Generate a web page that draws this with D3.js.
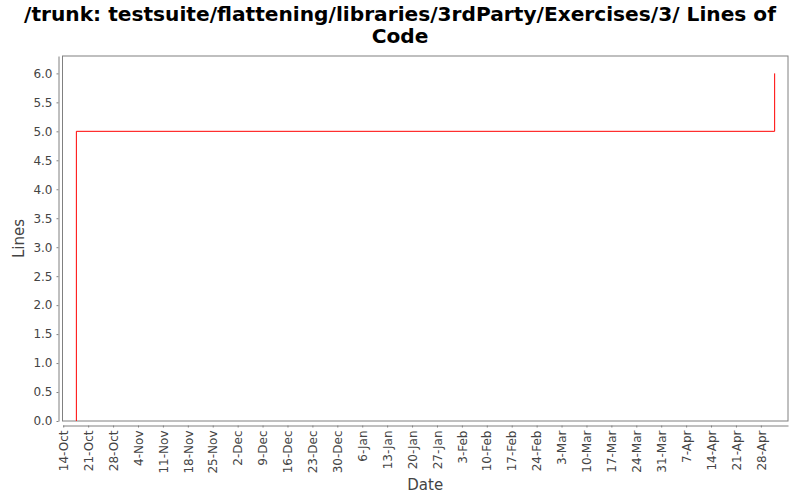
<!DOCTYPE html>
<html><head><meta charset="utf-8">
<script src="https://cdn.jsdelivr.net/npm/d3@7"></script>
<style>body{margin:0;background:#fff;} svg{display:block;}</style>
</head><body>
<svg id="c" width="800" height="500"></svg>
<script>
const titleLines = ["/trunk: testsuite/flattening/libraries/3rdParty/Exercises/3/ Lines of", "Code"];
const yLabel = "Lines";
const xLabel = "Date";
const stepDates = ["2006-10-17T16:30", "2006-10-17T16:30", "2007-05-01T21:00"];
const stepValues = [0, 5, 6];
const yTicks = [0, 0.5, 1, 1.5, 2, 2.5, 3, 3.5, 4, 4.5, 5, 5.5, 6];
const xTickDates = ["2006-10-14","2006-10-21","2006-10-28","2006-11-04","2006-11-11","2006-11-18","2006-11-25",
  "2006-12-02","2006-12-09","2006-12-16","2006-12-23","2006-12-30","2007-01-06","2007-01-13","2007-01-20",
  "2007-01-27","2007-02-03","2007-02-10","2007-02-17","2007-02-24","2007-03-03","2007-03-10","2007-03-17",
  "2007-03-24","2007-03-31","2007-04-07","2007-04-14","2007-04-21","2007-04-28"];
const domainStart = "2006-10-13T19:00";
const domainEnd = "2007-05-05T15:00";

const parse = d3.timeParse("%Y-%m-%dT%H:%M");
const parseDay = d3.timeParse("%Y-%m-%d");
const data = stepDates.map((d, i) => ({date: parse(d), v: stepValues[i]}));

const svg = d3.select("#c");
const L = 62.5, R = 788, T = 56, B = 421;
const x = d3.scaleTime().domain([parse(domainStart), parse(domainEnd)]).range([L, R]);
const y = d3.scaleLinear().domain([0, 6.3]).range([B, T]);

// title
const title = svg.append("text").attr("text-anchor", "middle")
  .style("font-family", "'DejaVu Sans', sans-serif")
  .style("font-weight", "bold").style("font-size", "20px").attr("fill", "#000");
const t1 = title.append("tspan").attr("x", 400).attr("y", 21).text(titleLines[0]);
title.append("tspan").attr("x", 400).attr("y", 43).text(titleLines[1]);
const w = t1.node().getComputedTextLength();
title.style("font-size", (20 * 752 / w).toFixed(2) + "px");

// plot box
svg.append("rect").attr("x", L).attr("y", T).attr("width", R - L).attr("height", B - T)
  .attr("fill", "#fff").attr("stroke", "#808080").attr("stroke-width", 1);

const font = "'DejaVu Sans', sans-serif";
// y axis
const yAxis = d3.axisLeft(y).tickValues(yTicks).tickFormat(d3.format(".1f")).tickSizeInner(2).tickSizeOuter(0).tickPadding(4);
const gy = svg.append("g").attr("transform", `translate(58.5,0)`).call(yAxis);
gy.select(".domain").attr("stroke", "#808080");
gy.selectAll(".tick line").attr("stroke", "#808080");
gy.selectAll(".tick text").attr("fill", "#444").style("font-family", font).style("font-size", "12px");

// x axis
const xTicks = xTickDates.map(parseDay);
const xAxis = d3.axisBottom(x).tickValues(xTicks).tickFormat(d3.timeFormat("%-d-%b")).tickSizeInner(2).tickSizeOuter(0).tickPadding(3);
const gx = svg.append("g").attr("transform", `translate(0,425.5)`).call(xAxis);
gx.select(".domain").attr("stroke", "#808080");
gx.selectAll(".tick line").attr("stroke", "#808080");
gx.selectAll(".tick text").attr("fill", "#444").style("font-family", font).style("font-size", "12px")
  .attr("text-anchor", "end").attr("transform", "rotate(-90)").attr("x", -5).attr("y", 0).attr("dy", "0.35em");

// labels
svg.append("text").attr("transform", `translate(24,${(T + B) / 2}) rotate(-90)`).attr("text-anchor", "middle")
  .attr("fill", "#444").style("font-family", font).style("font-size", "15px").text(yLabel);
svg.append("text").attr("x", (L + R) / 2).attr("y", 490).attr("text-anchor", "middle")
  .attr("fill", "#444").style("font-family", font).style("font-size", "15px").text(xLabel);

// line
const line = d3.line().x(d => x(d.date)).y(d => y(d.v)).curve(d3.curveStepAfter);
svg.append("path").datum(data).attr("d", line).attr("fill", "none").attr("stroke", "#ff0000").attr("stroke-width", 1);
</script>
</body></html>
